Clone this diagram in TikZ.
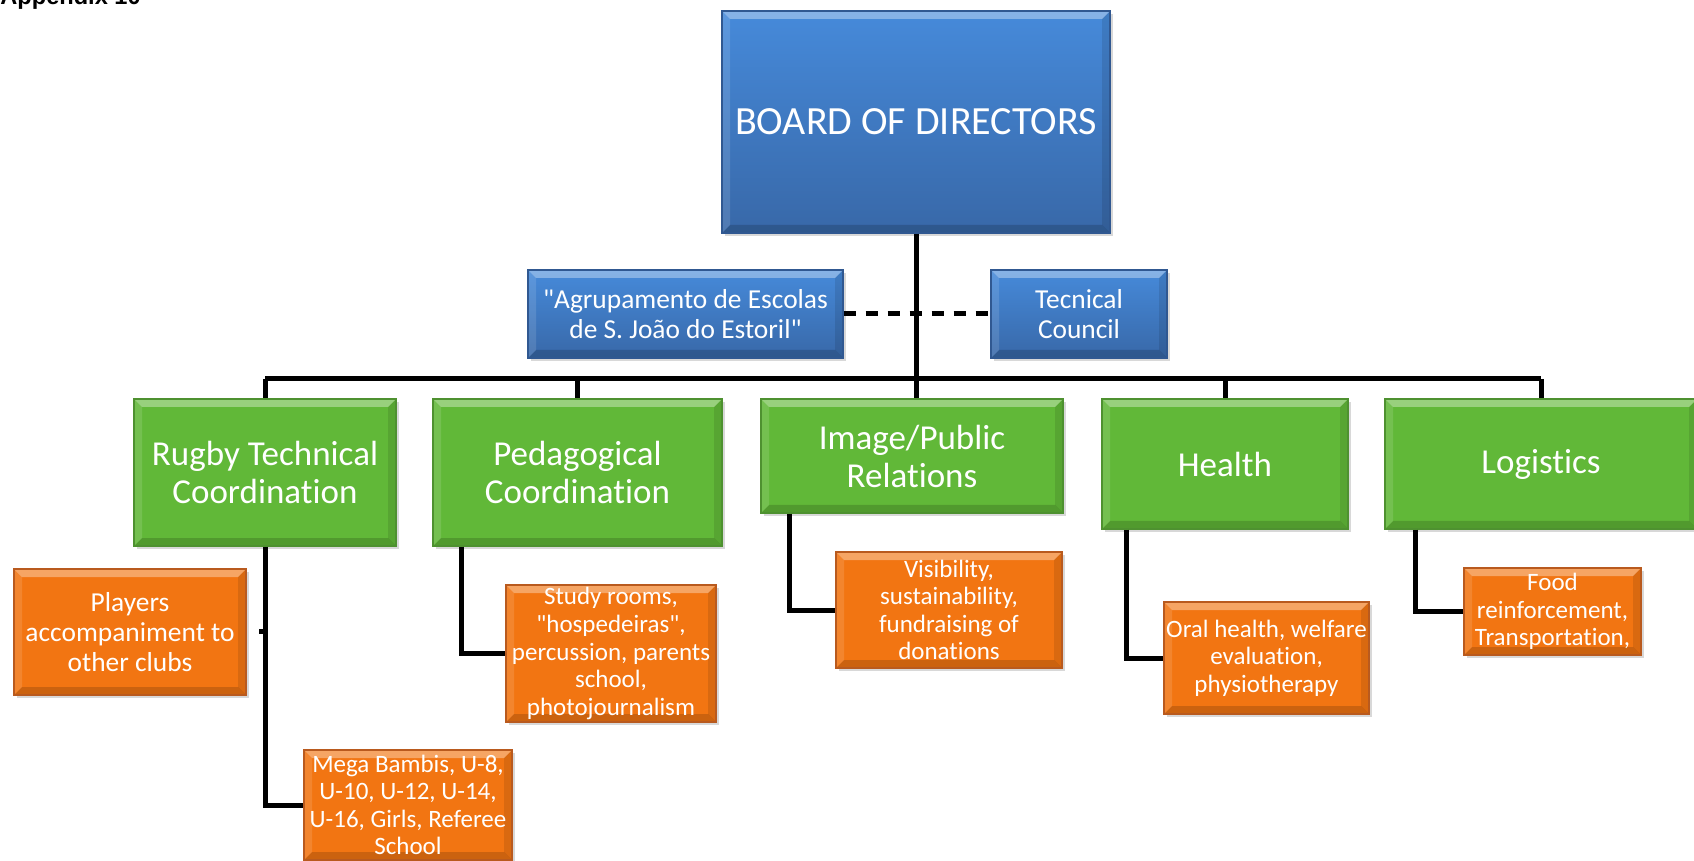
\documentclass[tikz,border=0pt]{standalone}
\usepackage{fontspec}
\setmainfont{Carlito}[Ligatures={TeXOff,NoCommon}]
\newfontfamily\arialfont{Liberation Sans}
\usetikzlibrary{shadows}
\definecolor{bluetop}{RGB}{70,138,218}
\definecolor{bluebot}{RGB}{56,104,168}
\definecolor{blueedge}{RGB}{48,88,145}
\definecolor{greenfill}{RGB}{97,184,56}
\definecolor{greenedge}{RGB}{78,145,48}
\definecolor{orangefill}{RGB}{242,117,18}
\definecolor{orangeedge}{RGB}{185,90,30}
\tikzset{
  bevel/.style={path picture={
    \fill[white,opacity=0.35] (path picture bounding box.north west) -- (path picture bounding box.north east)
      -- ([shift={(-4pt,-4pt)}]path picture bounding box.north east) -- ([shift={(4pt,-4pt)}]path picture bounding box.north west) -- cycle;
    \fill[white,opacity=0.12] (path picture bounding box.north west) -- ([shift={(4pt,-4pt)}]path picture bounding box.north west)
      -- ([shift={(4pt,4pt)}]path picture bounding box.south west) -- (path picture bounding box.south west) -- cycle;
    \fill[black,opacity=0.10] (path picture bounding box.north east) -- ([shift={(-4pt,-4pt)}]path picture bounding box.north east)
      -- ([shift={(-4pt,4pt)}]path picture bounding box.south east) -- (path picture bounding box.south east) -- cycle;
    \fill[black,opacity=0.16] (path picture bounding box.south west) -- (path picture bounding box.south east)
      -- ([shift={(-4pt,4pt)}]path picture bounding box.south east) -- ([shift={(4pt,4pt)}]path picture bounding box.south west) -- cycle;
  }},
  box/.style={draw, line width=0.6pt, text=white, align=center, inner sep=0pt, bevel,
    drop shadow={shadow xshift=1.5pt, shadow yshift=-1.5pt, opacity=0.3}},
  bluebox/.style={box, draw=blueedge, top color=bluetop, bottom color=bluebot},
  greenbox/.style={box, draw=greenedge, fill=greenfill, font=\fontsize{17.5}{19}\selectfont},
  orangebox/.style={box, draw=orangeedge, fill=orangefill, font=\fontsize{12.5}{13.8}\selectfont},
  conn/.style={line width=2.5pt, black},
}
\begin{document}
\begin{tikzpicture}[x=0.5pt,y=-0.5pt]
\useasboundingbox (0,0) rectangle (1694,861);
\clip (0,0) rectangle (1694,861);
\fill[white] (0,0) rectangle (1694,861);

\node[anchor=base west, inner sep=0pt, font=\arialfont\bfseries\fontsize{11.8}{14}\selectfont] (app) at (0,5) {Appendix 10};

\coordinate (bus) at (916,379);
\coordinate (stub) at (259,631);

\node[bluebox, minimum width=194pt, minimum height=111pt, font=\fontsize{20}{24}\selectfont] (board) at (916,122) {BOARD OF DIRECTORS};
\node[bluebox, minimum width=157.5pt, minimum height=44pt, font=\fontsize{13.7}{15}\selectfont] (agr) at (685.5,314) {"Agrupamento de Escolas\\de S. João do Estoril"};
\node[bluebox, minimum width=88pt, minimum height=44pt, font=\fontsize{13.7}{15}\selectfont] (tec) at (1079,314) {Tecnical\\Council};

\node[greenbox, minimum width=131pt, minimum height=73.5pt] (rugby) at (265,472.5) {Rugby Technical\\Coordination};
\node[greenbox, minimum width=144.5pt, minimum height=73.5pt] (ped) at (577.5,472.5) {Pedagogical\\Coordination};
\node[greenbox, minimum width=151pt, minimum height=57pt] (img) at (912,456) {Image/Public\\Relations};
\node[greenbox, minimum width=123pt, minimum height=65pt] (health) at (1225,464) {Health};
\node[greenbox, minimum width=156pt, minimum height=65pt] (logistics) at (1541,464) {Logistics};

\node[orangebox, minimum width=116pt, minimum height=63pt, font=\fontsize{13.7}{14.9}\selectfont] (players) at (130,632) {Players\\accompaniment to\\other clubs};
\node[orangebox, minimum width=104pt, minimum height=55pt] (mega) at (408,805) {Mega Bambis, U-8,\\U-10, U-12, U-14,\\U-16, Girls, Referee\\School};
\node[orangebox, minimum width=105pt, minimum height=68.5pt] (study) at (611,653.5) {Study rooms,\\"hospedeiras",\\percussion, parents\\school,\\photojournalism};
\node[orangebox, minimum width=113pt, minimum height=58pt] (vis) at (949,610) {Visibility,\\sustainability,\\fundraising of\\donations};
\node[orangebox, minimum width=102.5pt, minimum height=56pt] (oral) at (1266.5,658) {Oral health, welfare\\evaluation,\\physiotherapy};
\node[orangebox, minimum width=88.5pt, minimum height=43.5pt] (food) at (1552.5,611.5) {Food\\reinforcement,\\Transportation,};

\draw[conn] (board.south) -- (board.south |- img.north);
\draw[conn] (rugby.north |- bus) -- (logistics.north |- bus);
\foreach \n in {rugby,ped,health,logistics} \draw[conn] (\n.north |- bus) -- (\n.north);
\draw[conn, dash pattern=on 6pt off 5pt] (agr.east) -- (tec.west);
\draw[conn] (rugby.south) |- (mega.west);
\draw[conn] (stub) -- (stub -| rugby.south);
\draw[conn] ([xshift=14.5pt]ped.south west) |- (study.west);
\draw[conn] ([xshift=14.5pt]img.south west) |- (vis.west);
\draw[conn] ([xshift=12.5pt]health.south west) |- (oral.west);
\draw[conn] ([xshift=15.5pt]logistics.south west) |- (food.west);
\end{tikzpicture}
\end{document}
